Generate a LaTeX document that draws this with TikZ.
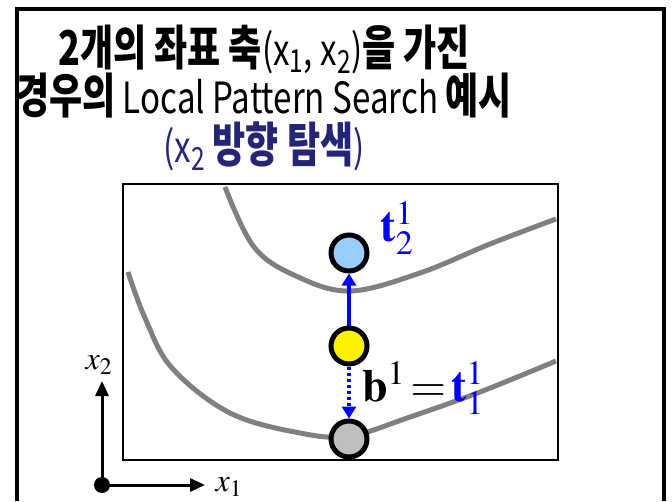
\documentclass[tikz,border=0pt]{standalone}
\usepackage{mathptmx}
\usepackage{fontspec}
\newfontfamily\krb[FakeStretch=0.75]{Noto Sans CJK KR}
\newfontfamily\latn[FakeStretch=0.77]{Noto Sans CJK KR}
\usetikzlibrary{arrows.meta}

\definecolor{lblue}{RGB}{153,204,255}
\definecolor{curvegray}{RGB}{128,128,128}
\definecolor{navy}{RGB}{36,36,120}

% bold condensed hangul, as on the slide
\newcommand\ko[1]{{\krb\bfseries\fontsize{48}{50}\selectfont #1}}

\begin{document}
\begin{tikzpicture}[x=1pt, y=-1pt,
  frame/.style   = {line width=4pt},
  box/.style     = {line width=2.5pt},
  contour/.style = {curvegray, line width=5pt},
  pt/.style      = {circle, draw, line width=5pt, minimum size=36pt, inner sep=0pt},
  move/.style    = {blue, line width=3.5pt, -{Triangle[length=12pt,width=14pt]}},
  probe/.style   = {move, dash pattern=on 3.5pt off 2.5pt},
  axis/.style    = {line width=3pt, -{Triangle[length=15pt,width=13pt]}},
  title/.style   = {font=\latn\fontsize{43}{45}\selectfont, inner sep=0pt, anchor=base},
  lbl/.style     = {font=\fontsize{46}{48}\selectfont, inner sep=0pt},
  axlbl/.style   = {font=\fontsize{32}{34}\selectfont, inner sep=0pt},
]
  \useasboundingbox (0,0) rectangle (672,501);

  % outer frame (open at the bottom)
  \draw[frame] (17,501) -- (17,9) -- (664,9) -- (664,501);

  % title
  \node[title] (l1) at (264,65) {\ko{2개의 좌표 축}(x\textsubscript{1}, x\textsubscript{2})\ko{을 가진}};
  \node[title] (l2) at (264,113) {\ko{경우의} Local Pattern Search \ko{예시}};
  \node[title, text=navy] (l3) at (264,162) {(x\textsubscript{2} \ko{방향 탐색})};

  % plot area
  \draw[box] (123,184) rectangle (558,460);

  % contour lines
  \draw[contour] plot[smooth, tension=0.6] coordinates
    {(225,187) (254,247) (296,276) (350,291) (420,273) (490,244) (556,219)};
  \draw[contour] plot[smooth, tension=0.6] coordinates
    {(128,272) (145,318) (172,368) (230,413) (300,433) (350,436) (410,417) (480,392) (556,361)};

  % search points
  \node[pt, fill=lblue] (t2) at (349,253) {};
  \node[pt, fill=yellow] (b1) at (349,346) {};
  \node[pt, fill=lightgray] (t1) at (349,439) {};

  \draw[move] (b1) -- (t2);
  \draw[probe] (b1) -- (t1);

  \node[lbl, text=blue] (t2lbl) at (397,228) {$\mathbf{t}^{1}_{2}$};
  \node[lbl] (b1lbl) at (423,388) {$\mathbf{b}^{1}\!=\!\textcolor{blue}{\mathbf{t}^{1}_{1}}$};

  % coordinate axes
  \node[circle, fill, inner sep=0pt, minimum size=16pt] (o) at (102,485) {};
  \coordinate (x1end) at (205,485);
  \coordinate (x2end) at (102,381);
  \draw[axis] (o.center) -- (x1end);
  \draw[axis] (o.center) -- (x2end);
  \node[axlbl] (x1lbl) at (229,487) {$x_1$};
  \node[axlbl] (x2lbl) at (99,365) {$x_2$};
\end{tikzpicture}
\end{document}
